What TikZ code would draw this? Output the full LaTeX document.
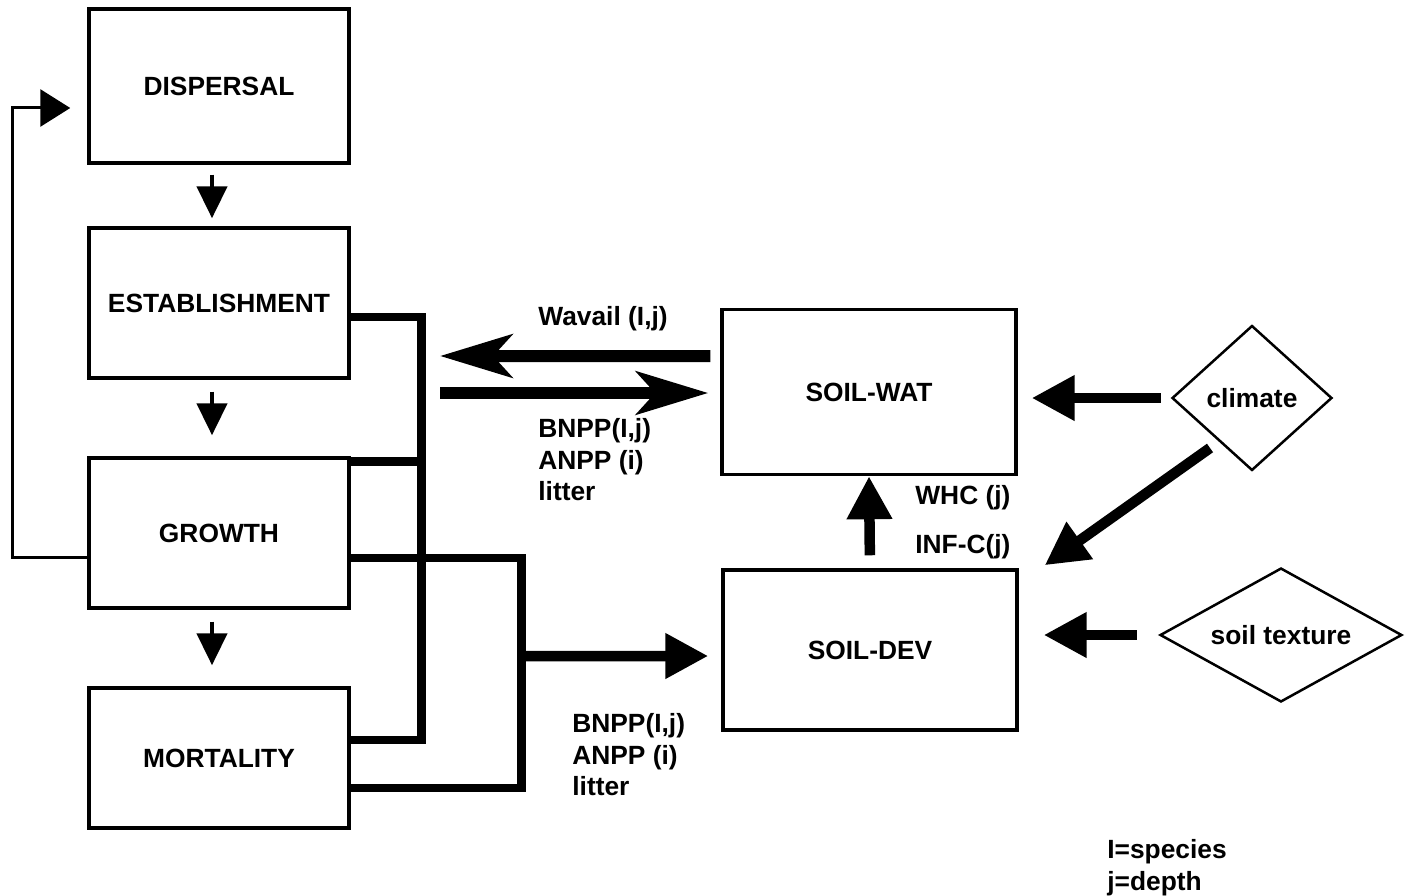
\documentclass[tikz,border=0pt]{standalone}
\usepackage{fontspec}
\setmainfont{Liberation Sans}
\usetikzlibrary{arrows.meta}
\usetikzlibrary{shapes.geometric}
\tikzset{box/.style = {draw, line width = 0.07cm, minimum width = 5.2cm, inner sep = 0}}
\tikzset{diam/.style = {draw, diamond, line width = 0.05cm, inner sep = 1pt}}
\tikzset{lbl/.style = {inner sep = 0, align = left}}
\tikzset{bus/.style = {line width = 0.17cm}}
\tikzset{smallarrow/.style = {line width = 0.09cm, -{Triangle[length = 0.64cm, width = 0.6cm]}}}
\tikzset{fbarrow/.style = {line width = 0.06cm, -{Triangle[length = 0.6cm, width = 0.74cm]}}}
\tikzset{bigarrow/.style = {line width = 0.21cm, -{Triangle[length = 0.86cm, width = 0.86cm]}}}
\tikzset{flowarrow/.style = {line width = 0.24cm, -{Stealth[length = 1.44cm, width = 0.86cm, inset = 0.38cm]}}}
\begin{document}
\begin{tikzpicture}[x = 0.02cm, y = -0.02cm,
    every node/.style = {font = \fontsize{15}{18}\selectfont\bfseries}]
  \useasboundingbox (0, 0) rectangle (1411, 896);
  % model boxes
  \node [box, minimum height = 3.08cm] (disp) at (219, 86) {DISPERSAL};
  \node [box, minimum height = 3cm] (est) at (219, 303) {ESTABLISHMENT};
  \node [box, minimum height = 3cm] (gro) at (219, 533) {GROWTH};
  \node [box, minimum height = 2.8cm] (mort) at (219, 758) {MORTALITY};
  \node [box, minimum width = 5.88cm, minimum height = 3.3cm] (wat) at (869, 392) {SOIL-WAT};
  \node [box, minimum width = 5.88cm, minimum height = 3.2cm] (dev) at (870, 650) {SOIL-DEV};
  \node [diam, minimum width = 3.2cm, minimum height = 2.9cm] (clim) at (1252, 398) {climate};
  \node [diam, aspect = 2, minimum width = 4.84cm, minimum height = 2.68cm] (tex) at (1281, 635) {soil texture};
  % free ends
  \coordinate (wlft) at (440, 356);
  \coordinate (blft) at (440, 393);
  \coordinate (split) at (520, 656);
  % plant sequence
  \draw [smallarrow] ([xshift = -0.14cm, yshift = -0.2cm]disp.south) -- ([xshift = -0.14cm, yshift = 0.16cm]est.north);
  \draw [smallarrow] ([xshift = -0.14cm, yshift = -0.24cm]est.south) -- ([xshift = -0.14cm, yshift = 0.42cm]gro.north);
  \draw [smallarrow] ([xshift = -0.14cm, yshift = -0.24cm]gro.south) -- ([xshift = -0.14cm, yshift = 0.42cm]mort.north);
  \draw [fbarrow] ([yshift = -0.48cm]gro.west) -- ++(-75, 0) |- ([xshift = -0.34cm, yshift = -0.44cm]disp.west);
  % litter lines
  \draw [bus] ([yshift = -0.28cm]est.east) -- ++(71, 0) |- ([yshift = 0.36cm]mort.east);
  \draw [bus] ([yshift = -0.1cm]gro.north east) -- ++(71, 0);
  \draw [bus] ([yshift = -0.5cm]gro.east) -- ++(171, 0) |- ([yshift = -0.6cm]mort.east);
  \draw [bigarrow] (split) -- ([xshift = -0.26cm, yshift = -0.12cm]dev.west);
  % water exchange
  \draw [flowarrow] ([xshift = -0.2cm, yshift = 0.72cm]wat.west) -- (wlft);
  \draw [flowarrow] (blft) -- ([xshift = -0.24cm, yshift = -0.02cm]wat.west);
  % drivers
  \draw [bigarrow, shorten <= 0.2cm, shorten >= 0.28cm] (clim.west) -- (wat.east |- clim.west);
  \draw [bigarrow, shorten <= 0.44cm, shorten >= 0.5cm] (tex.west) -- (dev.east |- tex.west);
  \draw [bigarrow] ([xshift = -0.84cm, yshift = -1cm]clim.center) -- ([xshift = 0.52cm, yshift = 0.06cm]dev.north east);
  \draw [bigarrow, shorten <= 0.26cm] (dev.north) -- (wat.south);
  % labels
  \node [lbl, anchor = west] (wav) at (538, 319) {Wavail (I,j)};
  \node [lbl, anchor = north west] (flux1) at (538, 418) {BNPP(I,j)\\ANPP (i)\\litter};
  \node [lbl, anchor = north west] (flux2) at (572, 713) {BNPP(I,j)\\ANPP (i)\\litter};
  \node [lbl, anchor = west] (whc) at (915, 498) {WHC (j)};
  \node [lbl, anchor = west] (inf) at (915, 547) {INF-C(j)};
  \node [lbl, anchor = north west] (key) at (1107, 839) {I=species\\j=depth};
\end{tikzpicture}
\end{document}
